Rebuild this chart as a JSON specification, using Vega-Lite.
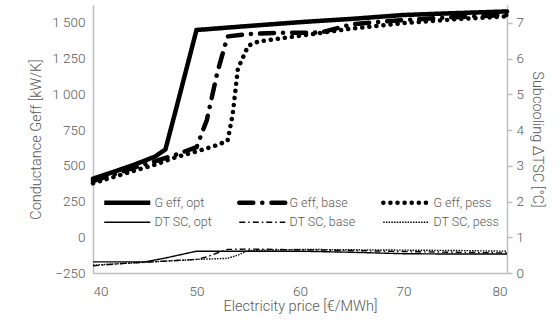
{
  "$schema": "https://vega.github.io/schema/vega-lite/v6.json",
  "width": 414,
  "height": 268,
  "autosize": "none",
  "padding": {"left": 93, "top": 5, "right": 53, "bottom": 49},
  "config": {
    "font": "Roboto",
    "view": {"stroke": null},
    "axis": {
      "domainColor": "#bfbfbf",
      "domainWidth": 1.5,
      "labelColor": "#595959",
      "titleColor": "#595959",
      "labelFont": "Roboto",
      "titleFont": "Roboto",
      "labelFontWeight": 300,
      "titleFontWeight": 300,
      "labelFontSize": 13.5,
      "titleFontSize": 14.5,
      "grid": false,
      "ticks": false
    },
    "legend": {
      "orient": "none",
      "legendX": 28,
      "legendY": 191,
      "columns": 3,
      "direction": "horizontal",
      "symbolType": "M-3,0H3",
      "symbolSize": 235,
      "symbolStrokeColor": "black",
      "labelFontSize": 12.5,
      "labelFontWeight": 300,
      "labelColor": "#595959",
      "columnPadding": 18,
      "rowPadding": 4,
      "labelOffset": 21,
      "padding": 0,
      "title": null
    }
  },
  "data": {
    "values": [
      {"price": 40, "value": 410, "series": "G eff, opt", "kind": "G"},
      {"price": 42, "value": 458, "series": "G eff, opt", "kind": "G"},
      {"price": 44, "value": 508, "series": "G eff, opt", "kind": "G"},
      {"price": 46, "value": 565, "series": "G eff, opt", "kind": "G"},
      {"price": 47, "value": 615, "series": "G eff, opt", "kind": "G"},
      {"price": 48, "value": 890, "series": "G eff, opt", "kind": "G"},
      {"price": 49, "value": 1170, "series": "G eff, opt", "kind": "G"},
      {"price": 50, "value": 1450, "series": "G eff, opt", "kind": "G"},
      {"price": 55, "value": 1478, "series": "G eff, opt", "kind": "G"},
      {"price": 60, "value": 1505, "series": "G eff, opt", "kind": "G"},
      {"price": 65, "value": 1528, "series": "G eff, opt", "kind": "G"},
      {"price": 70, "value": 1555, "series": "G eff, opt", "kind": "G"},
      {"price": 75, "value": 1568, "series": "G eff, opt", "kind": "G"},
      {"price": 80, "value": 1580, "series": "G eff, opt", "kind": "G"},
      {"price": 40, "value": 392, "series": "G eff, base", "kind": "G"},
      {"price": 42, "value": 440, "series": "G eff, base", "kind": "G"},
      {"price": 44, "value": 488, "series": "G eff, base", "kind": "G"},
      {"price": 46, "value": 532, "series": "G eff, base", "kind": "G"},
      {"price": 48, "value": 578, "series": "G eff, base", "kind": "G"},
      {"price": 50, "value": 630, "series": "G eff, base", "kind": "G"},
      {"price": 51, "value": 820, "series": "G eff, base", "kind": "G"},
      {"price": 52, "value": 1150, "series": "G eff, base", "kind": "G"},
      {"price": 53, "value": 1405, "series": "G eff, base", "kind": "G"},
      {"price": 55, "value": 1422, "series": "G eff, base", "kind": "G"},
      {"price": 58, "value": 1430, "series": "G eff, base", "kind": "G"},
      {"price": 62, "value": 1432, "series": "G eff, base", "kind": "G"},
      {"price": 65, "value": 1490, "series": "G eff, base", "kind": "G"},
      {"price": 70, "value": 1520, "series": "G eff, base", "kind": "G"},
      {"price": 75, "value": 1540, "series": "G eff, base", "kind": "G"},
      {"price": 80, "value": 1555, "series": "G eff, base", "kind": "G"},
      {"price": 40, "value": 378, "series": "G eff, pess", "kind": "G"},
      {"price": 42, "value": 422, "series": "G eff, pess", "kind": "G"},
      {"price": 44, "value": 466, "series": "G eff, pess", "kind": "G"},
      {"price": 46, "value": 508, "series": "G eff, pess", "kind": "G"},
      {"price": 48, "value": 560, "series": "G eff, pess", "kind": "G"},
      {"price": 50, "value": 600, "series": "G eff, pess", "kind": "G"},
      {"price": 52, "value": 645, "series": "G eff, pess", "kind": "G"},
      {"price": 53, "value": 675, "series": "G eff, pess", "kind": "G"},
      {"price": 53.5, "value": 860, "series": "G eff, pess", "kind": "G"},
      {"price": 54, "value": 1180, "series": "G eff, pess", "kind": "G"},
      {"price": 55, "value": 1340, "series": "G eff, pess", "kind": "G"},
      {"price": 56, "value": 1370, "series": "G eff, pess", "kind": "G"},
      {"price": 60, "value": 1410, "series": "G eff, pess", "kind": "G"},
      {"price": 65, "value": 1460, "series": "G eff, pess", "kind": "G"},
      {"price": 70, "value": 1498, "series": "G eff, pess", "kind": "G"},
      {"price": 75, "value": 1525, "series": "G eff, pess", "kind": "G"},
      {"price": 80, "value": 1545, "series": "G eff, pess", "kind": "G"},
      {"price": 40, "value": 0.31, "series": "DT SC, opt", "kind": "DT"},
      {"price": 45, "value": 0.31, "series": "DT SC, opt", "kind": "DT"},
      {"price": 47, "value": 0.42, "series": "DT SC, opt", "kind": "DT"},
      {"price": 50, "value": 0.61, "series": "DT SC, opt", "kind": "DT"},
      {"price": 55, "value": 0.61, "series": "DT SC, opt", "kind": "DT"},
      {"price": 60, "value": 0.61, "series": "DT SC, opt", "kind": "DT"},
      {"price": 65, "value": 0.58, "series": "DT SC, opt", "kind": "DT"},
      {"price": 70, "value": 0.54, "series": "DT SC, opt", "kind": "DT"},
      {"price": 75, "value": 0.53, "series": "DT SC, opt", "kind": "DT"},
      {"price": 80, "value": 0.53, "series": "DT SC, opt", "kind": "DT"},
      {"price": 40, "value": 0.2, "series": "DT SC, base", "kind": "DT"},
      {"price": 43, "value": 0.27, "series": "DT SC, base", "kind": "DT"},
      {"price": 45, "value": 0.3, "series": "DT SC, base", "kind": "DT"},
      {"price": 48, "value": 0.35, "series": "DT SC, base", "kind": "DT"},
      {"price": 50, "value": 0.38, "series": "DT SC, base", "kind": "DT"},
      {"price": 51, "value": 0.45, "series": "DT SC, base", "kind": "DT"},
      {"price": 52, "value": 0.56, "series": "DT SC, base", "kind": "DT"},
      {"price": 53, "value": 0.66, "series": "DT SC, base", "kind": "DT"},
      {"price": 55, "value": 0.67, "series": "DT SC, base", "kind": "DT"},
      {"price": 60, "value": 0.65, "series": "DT SC, base", "kind": "DT"},
      {"price": 65, "value": 0.63, "series": "DT SC, base", "kind": "DT"},
      {"price": 70, "value": 0.6, "series": "DT SC, base", "kind": "DT"},
      {"price": 75, "value": 0.58, "series": "DT SC, base", "kind": "DT"},
      {"price": 80, "value": 0.56, "series": "DT SC, base", "kind": "DT"},
      {"price": 40, "value": 0.22, "series": "DT SC, pess", "kind": "DT"},
      {"price": 45, "value": 0.3, "series": "DT SC, pess", "kind": "DT"},
      {"price": 50, "value": 0.38, "series": "DT SC, pess", "kind": "DT"},
      {"price": 53, "value": 0.41, "series": "DT SC, pess", "kind": "DT"},
      {"price": 54, "value": 0.5, "series": "DT SC, pess", "kind": "DT"},
      {"price": 55, "value": 0.63, "series": "DT SC, pess", "kind": "DT"},
      {"price": 60, "value": 0.66, "series": "DT SC, pess", "kind": "DT"},
      {"price": 65, "value": 0.65, "series": "DT SC, pess", "kind": "DT"},
      {"price": 70, "value": 0.64, "series": "DT SC, pess", "kind": "DT"},
      {"price": 75, "value": 0.63, "series": "DT SC, pess", "kind": "DT"},
      {"price": 80, "value": 0.61, "series": "DT SC, pess", "kind": "DT"}
    ]
  },
  "encoding": {
    "x": {
      "field": "price",
      "type": "quantitative",
      "scale": {"domain": [40, 80], "nice": false, "zero": false},
      "axis": {"values": [40, 50, 60, 70, 80], "title": "Electricity price [€/MWh]", "labelPadding": 11, "titlePadding": 2}
    },
    "strokeDash": {
      "field": "series",
      "type": "nominal",
      "scale": {
        "domain": ["G eff, opt", "G eff, base", "G eff, pess", "DT SC, opt", "DT SC, base", "DT SC, pess"],
        "range": [[1, 0], [14, 9, 0.1, 9], [0.1, 7], [1, 0], [6, 3, 1.5, 3], [1.5, 1.2]]
      },
      "legend": {"encode": {"symbols": {"update": {
        "strokeCap": {"signal": "datum.value == 'G eff, pess' || datum.value == 'G eff, base' ? 'round' : 'butt'"},
        "strokeWidth": {"signal": "indexof(['G eff, opt','G eff, base','G eff, pess'], datum.value) >= 0 ? 4.5 : (datum.value == 'DT SC, opt' ? 1.5 : 1.3)"}
      }}}}
    }
  },
  "layer": [
    {
      "transform": [{"filter": "datum.kind == 'G'"}],
      "mark": {"type": "line", "color": "black", "strokeCap": "round", "strokeWidth": 4.5},
      "encoding": {
        "y": {
          "field": "value",
          "type": "quantitative",
          "scale": {"domain": [-250, 1625], "nice": false, "zero": false},
          "axis": {
            "orient": "left",
            "values": [-250, 0, 250, 500, 750, 1000, 1250, 1500],
            "labelExpr": "replace(format(datum.value, ','), ',', ' ')",
            "title": "Conductance Geff [kW/K]",
            "labelPadding": 8,
            "titlePadding": 8
          }
        }
      }
    },
    {
      "transform": [{"filter": "datum.kind == 'DT'"}],
      "mark": {"type": "line", "color": "black", "strokeCap": "butt", "strokeWidth": 1.4},
      "encoding": {
        "y": {
          "field": "value",
          "type": "quantitative",
          "scale": {"domain": [0, 7.5], "nice": false, "zero": false},
          "axis": {
            "orient": "right",
            "values": [0, 1, 2, 3, 4, 5, 6, 7],
            "ticks": true,
            "tickSize": 5,
            "tickColor": "#bfbfbf",
            "tickWidth": 1.5,
            "title": "Subcooling ΔTSC [°C]",
            "labelPadding": 4,
            "titlePadding": 6
          }
        }
      }
    }
  ],
  "resolve": {"scale": {"y": "independent"}}
}
